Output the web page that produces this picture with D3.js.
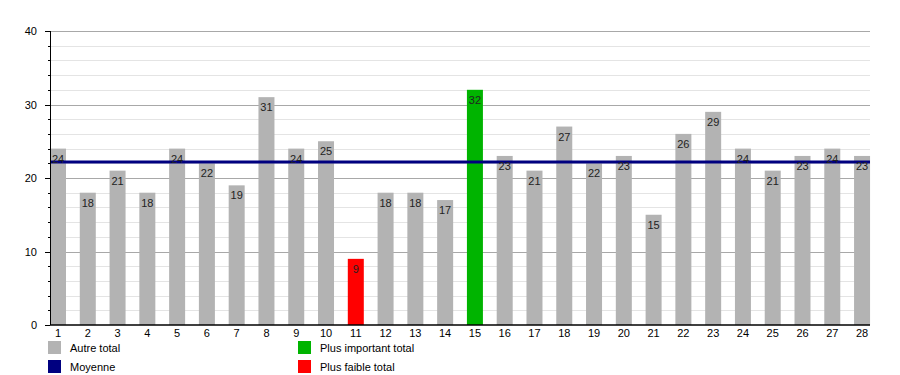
<!DOCTYPE html>
<html><head><meta charset="utf-8">
<script src="https://cdn.jsdelivr.net/npm/d3@7"></script>
<style>body{margin:0;background:#fff}svg{display:block}text{font-family:"Liberation Sans",Arial,sans-serif}</style>
</head><body>
<svg id="c" width="900" height="375"></svg>
<script>
const categories = d3.range(1, 29).map(String);
const totals = [24,18,21,18,24,22,19,31,24,25,9,18,18,17,32,23,21,27,22,23,15,26,29,24,21,23,24,23];
const yTicks = [0,10,20,30,40];
const legendItems = ["Autre total","Moyenne","Plus important total","Plus faible total"];
const legendColors = ["#b3b3b3","#000080","#00b400","#ff0000"];

(function(){
const svg = d3.select("#c");
const pL = 50, pR = 870, pT = 31, pB = 325;
const step = 29.78, barW = 16;
const x = d3.scaleBand().domain(categories).range([pL, pL + step*28]).padding(0);
const y = d3.scaleLinear().domain([0, 40]).range([pB, pT]);

const maxV = d3.max(totals), minV = d3.min(totals), mean = d3.mean(totals);

// minor gridlines
svg.append("g").selectAll("line").data(d3.range(2, 41, 2).filter(v => v % 10 !== 0)).join("line")
  .attr("x1", pL).attr("x2", pR).attr("y1", d => Math.round(y(d))+0.5).attr("y2", d => Math.round(y(d))+0.5)
  .attr("stroke", "#e4e4e4").attr("stroke-width", 1);
// major gridlines
svg.append("g").selectAll("line").data(yTicks.filter(v => v > 0)).join("line")
  .attr("x1", pL).attr("x2", pR).attr("y1", d => Math.round(y(d))+0.5).attr("y2", d => Math.round(y(d))+0.5)
  .attr("stroke", "#a8a8a8").attr("stroke-width", 1);

// bars
svg.append("g").selectAll("rect").data(totals).join("rect")
  .attr("x", (d, i) => x(categories[i])).attr("width", barW)
  .attr("y", d => y(d)).attr("height", d => pB - y(d))
  .attr("fill", d => d === maxV ? "#00b400" : d === minV ? "#ff0000" : "#b3b3b3");

// mean line
svg.append("line").attr("x1", pL).attr("x2", pR).attr("y1", y(mean)).attr("y2", y(mean))
  .attr("stroke", "#000080").attr("stroke-width", 3);

// value labels
svg.append("g").selectAll("text").data(totals).join("text")
  .attr("x", (d, i) => x(categories[i]) + barW/2).attr("y", d => y(d) + 14)
  .attr("text-anchor", "middle").attr("font-size", 11).attr("fill", "#222").text(d => d);

// y axis
svg.append("line").attr("x1", pL+0.5).attr("x2", pL+0.5).attr("y1", pT).attr("y2", pB).attr("stroke","#000");
svg.append("g").selectAll("line").data(d3.range(0, 41, 2)).join("line")
  .attr("x1", d => d % 10 === 0 ? pL - 5 : pL - 2).attr("x2", pL)
  .attr("y1", d => Math.round(y(d))+0.5).attr("y2", d => Math.round(y(d))+0.5).attr("stroke","#000");
svg.append("g").selectAll("text").data(yTicks).join("text")
  .attr("x", 37).attr("y", d => y(d) + 4).attr("text-anchor","end").attr("font-size", 11).attr("fill","#000").text(d => d);

// x axis
svg.append("line").attr("x1", pL).attr("x2", pR).attr("y1", pB).attr("y2", pB).attr("stroke","#000").attr("stroke-width",1.5);
svg.append("g").selectAll("text").data(categories).join("text")
  .attr("x", d => x(d) + barW/2).attr("y", pB + 12).attr("text-anchor","middle")
  .attr("font-size", 11).attr("fill","#000").text(d => d);

// legend
const legPos = [[48,341],[48,360],[298,341],[298,360]];
const lg = svg.append("g").selectAll("g").data(legendItems).join("g")
  .attr("transform", (d, i) => `translate(${legPos[i][0]},${legPos[i][1]})`);
lg.append("rect").attr("width", 13).attr("height", 13).attr("fill", (d, i) => legendColors[i]);
lg.append("text").attr("x", 22).attr("y", 11).attr("font-size", 11).attr("fill","#000").text(d => d);
})();
</script>
</body></html>
